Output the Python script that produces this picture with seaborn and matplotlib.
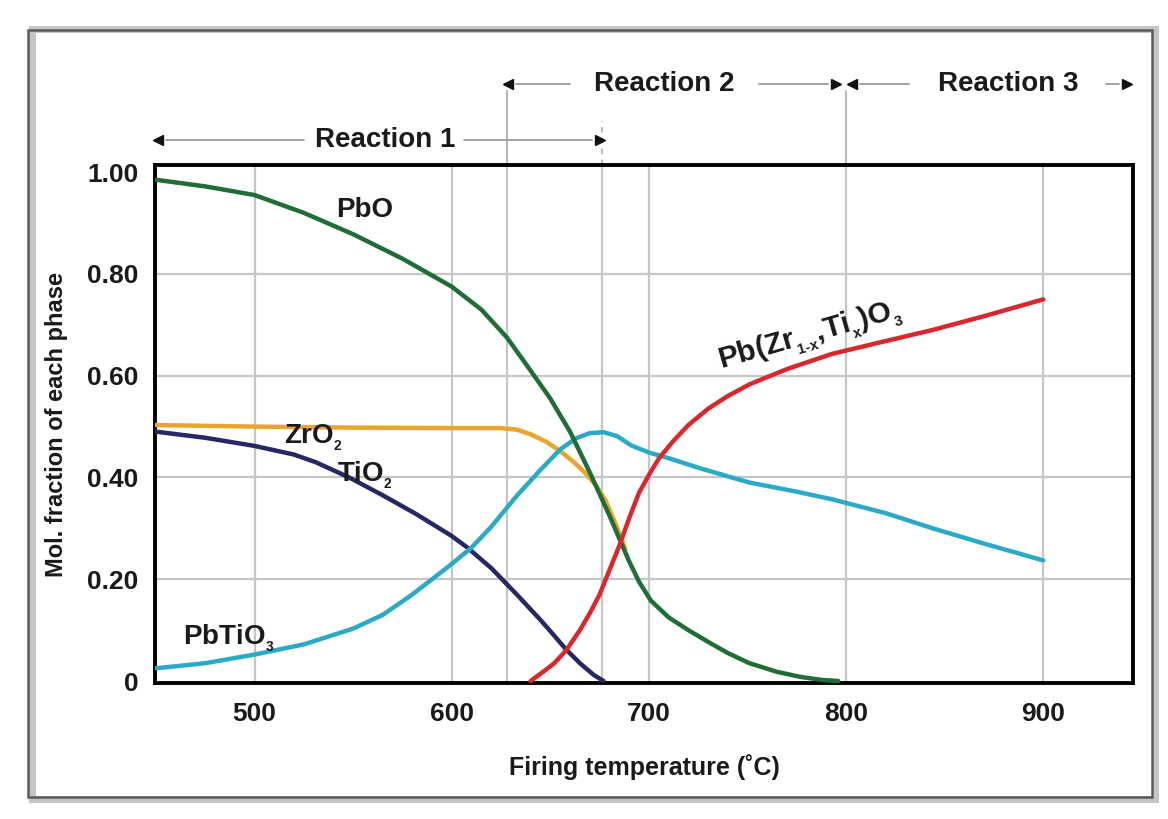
import matplotlib
matplotlib.use("Agg")
import matplotlib.pyplot as plt
import seaborn as sns
import pandas as pd
from matplotlib.patches import Rectangle

# ---------------- data ----------------
pbo_T = [450, 475, 500, 525, 550, 575, 600, 615, 628, 640, 650, 660, 670, 680, 690, 695, 701,
         710, 720, 730, 740, 751, 765, 777, 788, 796]
pbo_v = [0.985, 0.972, 0.955, 0.92, 0.878, 0.83, 0.775, 0.73, 0.675, 0.61, 0.555, 0.49, 0.41,
         0.325, 0.235, 0.195, 0.158, 0.125, 0.1, 0.077, 0.055, 0.035, 0.018, 0.008, 0.002, 0.0]

zro2_T = [450, 500, 550, 600, 625, 633, 640, 648, 655, 662, 668, 673, 678, 683, 688]
zro2_v = [0.503, 0.500, 0.498, 0.497, 0.497, 0.494, 0.485, 0.47, 0.452, 0.43, 0.408, 0.385,
          0.355, 0.31, 0.26]

tio2_T = [450, 475, 500, 520, 531, 548, 565, 582, 600, 608, 620, 633, 645, 650, 658, 665, 672, 677]
tio2_v = [0.49, 0.478, 0.462, 0.445, 0.43, 0.40, 0.365, 0.328, 0.285, 0.262, 0.222, 0.17,
          0.12, 0.098, 0.062, 0.035, 0.012, 0.0]

pbtio3_T = [450, 475, 500, 525, 550, 565, 580, 599, 610, 620, 633, 645, 655, 663, 670, 677,
            684, 691, 700, 710, 726, 751, 775, 793, 820, 844, 870, 900]
pbtio3_v = [0.025, 0.035, 0.052, 0.072, 0.103, 0.13, 0.17, 0.227, 0.262, 0.303, 0.364, 0.415,
            0.455, 0.477, 0.487, 0.489, 0.481, 0.463, 0.449, 0.438, 0.418, 0.39, 0.372, 0.357,
            0.33, 0.30, 0.27, 0.237]

pzt_T = [640, 647, 652, 658, 665, 670, 675, 680, 685, 690, 695, 700, 705, 712, 720, 730, 740,
         751, 770, 793, 820, 844, 870, 900]
pzt_v = [0.0, 0.02, 0.035, 0.06, 0.1, 0.133, 0.17, 0.218, 0.266, 0.32, 0.37, 0.405, 0.437,
         0.47, 0.503, 0.535, 0.56, 0.583, 0.613, 0.643, 0.668, 0.69, 0.717, 0.75]

phases = ["ZrO2", "TiO2", "PbTiO3", "PbO", "PZT"]
colors = ["#eca52c", "#272766", "#2aa9c9", "#1f6e36", "#dc262c"]

x_ticks = [500, 600, 700, 800, 900]
y_ticks = [0, 0.2, 0.4, 0.6, 0.8, 1.0]
y_ticklabels = ["0", "0.20", "0.40", "0.60", "0.80", "1.00"]
extra_grid = [628, 676]

reactions = ["Reaction 1", "Reaction 2", "Reaction 3"]

# ---------------- build frame ----------------
series = {
    "ZrO2": (zro2_T, zro2_v),
    "TiO2": (tio2_T, tio2_v),
    "PbTiO3": (pbtio3_T, pbtio3_v),
    "PbO": (pbo_T, pbo_v),
    "PZT": (pzt_T, pzt_v),
}
rows = []
for name in phases:
    T, v = series[name]
    for t, val in zip(T, v):
        rows.append({"T": t, "frac": val, "phase": name})
df = pd.DataFrame(rows)

sns.set_theme(style="white")
FAM = ["Liberation Sans", "DejaVu Sans"]
plt.rcParams["font.family"] = FAM
plt.rcParams["mathtext.fontset"] = "custom"
plt.rcParams["mathtext.rm"] = "Liberation Sans:bold"
plt.rcParams["mathtext.it"] = "Liberation Sans:bold"
plt.rcParams["mathtext.default"] = "rm"

fig = plt.figure(figsize=(11.68, 8.19), dpi=100)
ax = fig.add_axes([0.1327, 0.166, 0.970 - 0.1327, 0.7985 - 0.166])

# outer frame of the picture
fig.patches.append(Rectangle((0.027, 0.024), 0.962, 0.94, transform=fig.transFigure,
                             fill=False, edgecolor="#c4c4c4", linewidth=5, zorder=0))
fig.patches.append(Rectangle((0.024, 0.027), 0.962, 0.936, transform=fig.transFigure,
                             fill=False, edgecolor="#5a5a5a", linewidth=1.8, zorder=1))

xmin, xmax = 449.5, 945.5
ymin, ymax = -0.004, 1.014
ax.set_xlim(xmin, xmax)
ax.set_ylim(ymin, ymax)

# grid
for yv in y_ticks[1:-1]:
    ax.axhline(yv, color="#c6c6c6", lw=1.6, zorder=1)
for xv in x_ticks + extra_grid:
    ax.axvline(xv, color="#c6c6c6", lw=1.6, zorder=1)

sns.lineplot(data=df, x="T", y="frac", hue="phase", hue_order=phases,
             palette=dict(zip(phases, colors)), linewidth=3.2, legend=False,
             estimator=None, sort=False, ax=ax, zorder=3)

ax.set_xticks(x_ticks)
ax.set_xticklabels([str(t) for t in x_ticks])
ax.set_yticks(y_ticks)
ax.set_yticklabels(y_ticklabels)
ax.tick_params(axis="both", length=0, labelsize=19, colors="#1a1a1a")
ax.tick_params(axis="x", pad=14)
ax.tick_params(axis="y", pad=12)
for lab in ax.get_xticklabels() + ax.get_yticklabels():
    lab.set_fontweight("bold")

ax.set_xlabel("Firing temperature (˚C)", fontsize=18, fontweight="bold", labelpad=20,
              color="#1a1a1a")
ax.set_ylabel("Mol. fraction of each phase", fontsize=17, fontweight="bold",
              labelpad=14, color="#1a1a1a")

for s in ax.spines.values():
    s.set_visible(True)
    s.set_color("black")
    s.set_linewidth(2.8)
ax.set_facecolor("white")

# curve labels
tkw = dict(fontsize=20, fontweight="bold", color="#1a1a1a", zorder=5)
ax.text(556, 0.925, "PbO", ha="center", va="center", **tkw)
ax.text(530, 0.478, r"ZrO$_{_2}$", ha="center", va="center", **tkw)
ax.text(556, 0.405, r"TiO$_{_2}$", ha="center", va="center", **tkw)
ax.text(487, 0.085, r"PbTiO$_{_3}$", ha="center", va="center", **tkw)
ax.text(782, 0.676, r"Pb(Zr$_{_{1\text{-}x}}$,Ti$_{_x}$)O$_{_3}$",
        ha="center", va="center", rotation=16, rotation_mode="anchor",
        fontsize=21.5, fontweight="bold", color="#1a1a1a", zorder=5)

# reaction arrows above the plot
def reaction(label, x0, x1, xc, y, gap_l, gap_r):
    lkw = dict(color="#9a9a9a", lw=1.3, clip_on=False, zorder=4)
    ax.plot([x0 + 4, gap_l], [y, y], **lkw)
    ax.plot([gap_r, x1 - 4], [y, y], **lkw)
    ax.plot([x0], [y], marker="<", color="#111111", ms=7, clip_on=False, zorder=5)
    ax.plot([x1], [y], marker=">", color="#111111", ms=7, clip_on=False, zorder=5)
    ax.text(xc, y, label, ha="center", va="center", fontsize=20, color="#1a1a1a",
            fontweight="bold", clip_on=False, zorder=5)

reaction(reactions[0], 451, 675, 566, 1.063, 525, 606)
reaction(reactions[1], 628.5, 795, 708, 1.174, 660, 756)
reaction(reactions[2], 803, 942.5, 882, 1.174, 832, 932)

# boundary lines extending above the plot
for xv, ytop, ls in [(628, 1.160, "-"), (676, 1.10, (0, (3, 3))), (800, 1.160, "-")]:
    ax.plot([xv, xv], [ymax, ytop], color="#b0b0b0", lw=1.3, ls=ls, clip_on=False, zorder=2)

fig.savefig("out.png", dpi=100, facecolor="white")
